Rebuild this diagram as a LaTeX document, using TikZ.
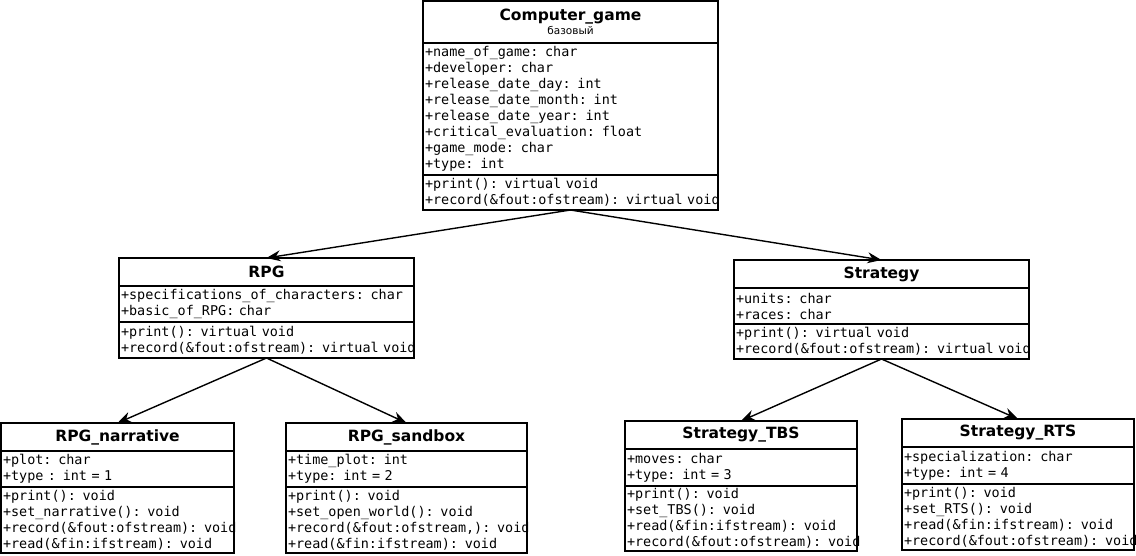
\documentclass[tikz,border=0pt]{standalone}
\usepackage{fontspec}
\setmainfont{DejaVu Sans}
\setmonofont[WordSpace={1,0,0}]{DejaVu Sans Mono}
\usetikzlibrary{arrows.meta,positioning}

\begin{document}
\begin{tikzpicture}[
		x=1pt, y=-1pt,
		classtitle/.style={draw, line width=1.4pt, outer sep=0pt, inner xsep=2pt, inner ysep=1pt, anchor=north west, align=center, font=\bfseries\fontsize{15.5}{17}\selectfont},
		classpart/.style={draw, line width=1.4pt, outer sep=0pt, inner xsep=2pt, inner ysep=1pt, align=left, font=\ttfamily\fontsize{13.45}{16}\selectfont},
		inherit/.style={-{Stealth[length=14pt,width=11pt]}, line width=1.4pt}
		]
	
		\useasboundingbox (0,0) rectangle (1136,556);
	
		% --- Computer_game ---
		\node[classtitle, text width=291pt, minimum height=42pt] (game) at (423,1) {Computer\_game\\[-3pt]{\mdseries\fontsize{10.5}{12}\selectfont базовый}};
		\node[classpart, text width=291pt, minimum height=132pt, below=0pt of game] (gameA) {+name\_of\_game: char\\+developer: char\\+release\_date\_day: int\\+release\_date\_month: int\\+release\_date\_year: int\\+critical\_evaluation: float\\+game\_mode: char\\+type: int};
		\node[classpart, text width=291pt, minimum height=35pt, below=0pt of gameA] (gameM) {+print(): virtual void\\\mbox{+record(\&fout:ofstream): virtual void}};
	
		% --- RPG ---
		\node[classtitle, text width=291pt, minimum height=28pt] (rpg) at (119,258) {RPG};
		\node[classpart, text width=291pt, minimum height=36pt, below=0pt of rpg] (rpgA) {\mbox{+specifications\_of\_characters: char}\\+basic\_of\_RPG: char};
		\node[classpart, text width=291pt, minimum height=36pt, below=0pt of rpgA] (rpgM) {+print(): virtual void\\\mbox{+record(\&fout:ofstream): virtual void}};
	
		% --- Strategy ---
		\node[classtitle, text width=291pt, minimum height=28pt] (strat) at (734,260) {Strategy};
		\node[classpart, text width=291pt, minimum height=36pt, below=0pt of strat] (stratA) {+units: char\\+races: char};
		\node[classpart, text width=291pt, minimum height=35pt, below=0pt of stratA] (stratM) {+print(): virtual void\\\mbox{+record(\&fout:ofstream): virtual void}};
	
		% --- RPG_narrative ---
		\node[classtitle, text width=229pt, minimum height=28pt] (narr) at (1,423) {RPG\_narrative};
		\node[classpart, text width=229pt, minimum height=36pt, below=0pt of narr] (narrA) {+plot: char\\+type : int = 1};
		\node[classpart, text width=229pt, minimum height=66pt, below=0pt of narrA] (narrM) {+print(): void\\+set\_narrative(): void\\\mbox{+record(\&fout:ofstream): void}\\+read(\&fin:ifstream): void};
	
		% --- RPG_sandbox ---
		\node[classtitle, text width=237pt, minimum height=28pt] (sand) at (286,423) {RPG\_sandbox};
		\node[classpart, text width=237pt, minimum height=36pt, below=0pt of sand] (sandA) {+time\_plot: int\\+type: int = 2};
		\node[classpart, text width=237pt, minimum height=66pt, below=0pt of sandA] (sandM) {+print(): void\\+set\_open\_world(): void\\\mbox{+record(\&fout:ofstream,): void}\\+read(\&fin:ifstream): void};
	
		% --- Strategy_TBS ---
		\node[classtitle, text width=228pt, minimum height=28pt] (tbs) at (625,421) {Strategy\_TBS};
		\node[classpart, text width=228pt, minimum height=37pt, below=0pt of tbs] (tbsA) {+moves: char\\+type: int = 3};
		\node[classpart, text width=228pt, minimum height=65pt, below=0pt of tbsA] (tbsM) {+print(): void\\+set\_TBS(): void\\+read(\&fin:ifstream): void\\\mbox{+record(\&fout:ofstream): void}};
	
		% --- Strategy_RTS ---
		\node[classtitle, text width=228pt, minimum height=28pt] (rts) at (902,419) {Strategy\_RTS};
		\node[classpart, text width=228pt, minimum height=37pt, below=0pt of rts] (rtsA) {+specialization: char\\+type: int = 4};
		\node[classpart, text width=228pt, minimum height=66pt, below=0pt of rtsA] (rtsM) {+print(): void\\+set\_RTS(): void\\+read(\&fin:ifstream): void\\\mbox{+record(\&fout:ofstream): void}};
	
		% --- inheritance ---
		\draw[inherit] (gameM.south) -- (rpg.north);
		\draw[inherit] (gameM.south) -- (strat.north);
		\draw[inherit] (rpgM.south) -- (narr.north);
		\draw[inherit] (rpgM.south) -- (sand.north);
		\draw[inherit] (stratM.south) -- (tbs.north);
		\draw[inherit] (stratM.south) -- (rts.north);
	
	\end{tikzpicture}
\end{document}
